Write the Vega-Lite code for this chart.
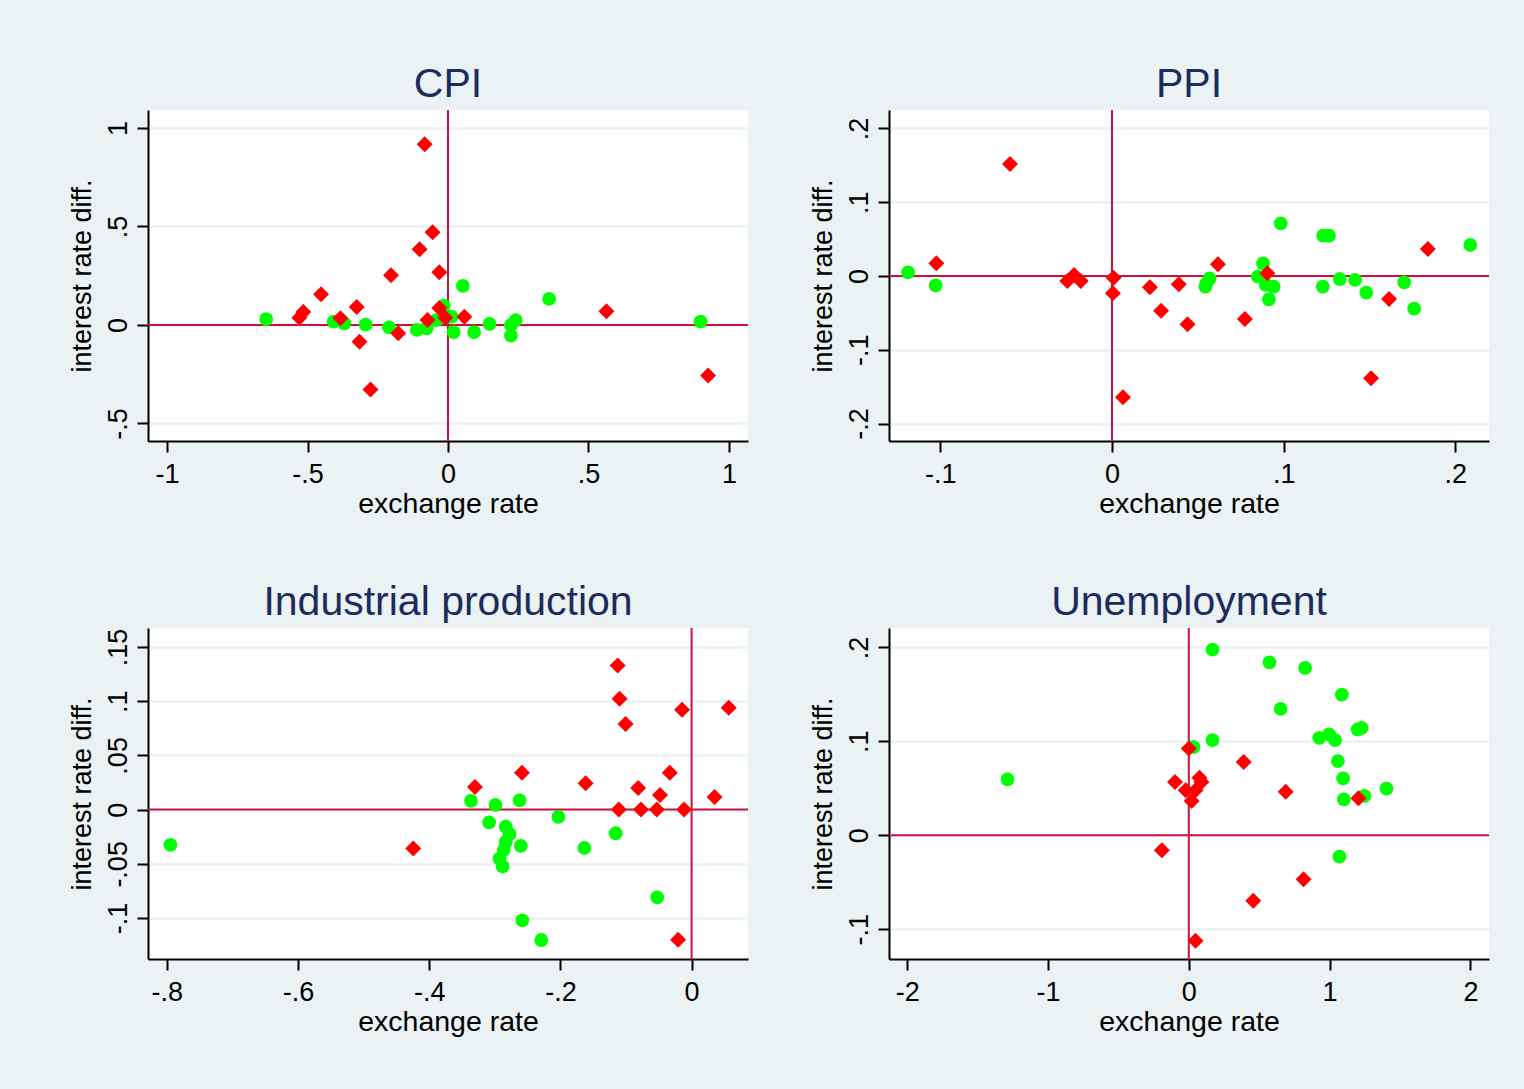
{
  "$schema": "https://vega.github.io/schema/vega-lite/v6.json",
  "autosize": {"type": "none"},
  "padding": {"left": 148, "top": 110, "right": 1376, "bottom": 979},
  "background": "#eaf2f3",
  "bounds": "flush",
  "columns": 2,
  "spacing": {"row": 187, "column": 141},
  "data": {"values": [
    {"panel":"CPI","type":"red","x":-0.083,"y":0.917},
    {"panel":"CPI","type":"red","x":-0.055,"y":0.470},
    {"panel":"CPI","type":"red","x":-0.101,"y":0.384},
    {"panel":"CPI","type":"red","x":-0.031,"y":0.267},
    {"panel":"CPI","type":"red","x":-0.203,"y":0.252},
    {"panel":"CPI","type":"red","x":-0.452,"y":0.156},
    {"panel":"CPI","type":"red","x":-0.325,"y":0.091},
    {"panel":"CPI","type":"red","x":-0.515,"y":0.066},
    {"panel":"CPI","type":"red","x":-0.529,"y":0.037},
    {"panel":"CPI","type":"red","x":-0.383,"y":0.034},
    {"panel":"CPI","type":"red","x":-0.031,"y":0.086},
    {"panel":"CPI","type":"red","x":-0.010,"y":0.037},
    {"panel":"CPI","type":"red","x":-0.073,"y":0.025},
    {"panel":"CPI","type":"red","x":0.058,"y":0.042},
    {"panel":"CPI","type":"red","x":0.564,"y":0.069},
    {"panel":"CPI","type":"red","x":-0.177,"y":-0.042},
    {"panel":"CPI","type":"red","x":-0.315,"y":-0.085},
    {"panel":"CPI","type":"red","x":-0.276,"y":-0.327},
    {"panel":"CPI","type":"red","x":0.926,"y":-0.257},
    {"panel":"CPI","type":"green","x":-0.647,"y":0.029},
    {"panel":"CPI","type":"green","x":-0.407,"y":0.017},
    {"panel":"CPI","type":"green","x":-0.369,"y":0.008},
    {"panel":"CPI","type":"green","x":-0.293,"y":0.002},
    {"panel":"CPI","type":"green","x":-0.210,"y":-0.012},
    {"panel":"CPI","type":"green","x":-0.111,"y":-0.025},
    {"panel":"CPI","type":"green","x":-0.076,"y":-0.017},
    {"panel":"CPI","type":"green","x":-0.041,"y":0.025},
    {"panel":"CPI","type":"green","x":-0.015,"y":0.098},
    {"panel":"CPI","type":"green","x":0.013,"y":0.042},
    {"panel":"CPI","type":"green","x":0.020,"y":-0.037},
    {"panel":"CPI","type":"green","x":0.093,"y":-0.037},
    {"panel":"CPI","type":"green","x":0.053,"y":0.198},
    {"panel":"CPI","type":"green","x":0.148,"y":0.005},
    {"panel":"CPI","type":"green","x":0.224,"y":0.000},
    {"panel":"CPI","type":"green","x":0.241,"y":0.025},
    {"panel":"CPI","type":"green","x":0.224,"y":-0.054},
    {"panel":"CPI","type":"green","x":0.360,"y":0.132},
    {"panel":"CPI","type":"green","x":0.899,"y":0.017},

    {"panel":"PPI","type":"red","x":-0.0594,"y":0.1519},
    {"panel":"PPI","type":"red","x":-0.1023,"y":0.0172},
    {"panel":"PPI","type":"red","x":-0.0260,"y":-0.0068},
    {"panel":"PPI","type":"red","x":-0.0221,"y":0.0014},
    {"panel":"PPI","type":"red","x":-0.0182,"y":-0.0068},
    {"panel":"PPI","type":"red","x":0.0009,"y":-0.0023},
    {"panel":"PPI","type":"red","x":0.0005,"y":-0.0235},
    {"panel":"PPI","type":"red","x":0.0064,"y":-0.1645},
    {"panel":"PPI","type":"red","x":0.0221,"y":-0.0154},
    {"panel":"PPI","type":"red","x":0.0389,"y":-0.0113},
    {"panel":"PPI","type":"red","x":0.0286,"y":-0.0470},
    {"panel":"PPI","type":"red","x":0.0440,"y":-0.0655},
    {"panel":"PPI","type":"red","x":0.0617,"y":0.0158},
    {"panel":"PPI","type":"red","x":0.0774,"y":-0.0583},
    {"panel":"PPI","type":"red","x":0.0905,"y":0.0036},
    {"panel":"PPI","type":"red","x":0.1509,"y":-0.1388},
    {"panel":"PPI","type":"red","x":0.1614,"y":-0.0312},
    {"panel":"PPI","type":"red","x":0.1840,"y":0.0366},
    {"panel":"PPI","type":"green","x":-0.1188,"y":0.0050},
    {"panel":"PPI","type":"green","x":-0.1027,"y":-0.0127},
    {"panel":"PPI","type":"green","x":0.0544,"y":-0.0145},
    {"panel":"PPI","type":"green","x":0.0569,"y":-0.0032},
    {"panel":"PPI","type":"green","x":0.0550,"y":-0.0099},
    {"panel":"PPI","type":"green","x":0.0850,"y":-0.0009},
    {"panel":"PPI","type":"green","x":0.0880,"y":0.0172},
    {"panel":"PPI","type":"green","x":0.0896,"y":-0.0122},
    {"panel":"PPI","type":"green","x":0.0942,"y":-0.0145},
    {"panel":"PPI","type":"green","x":0.0914,"y":-0.0316},
    {"panel":"PPI","type":"green","x":0.0983,"y":0.0714},
    {"panel":"PPI","type":"green","x":0.1230,"y":0.0547},
    {"panel":"PPI","type":"green","x":0.1264,"y":0.0547},
    {"panel":"PPI","type":"green","x":0.1228,"y":-0.0145},
    {"panel":"PPI","type":"green","x":0.1327,"y":-0.0041},
    {"panel":"PPI","type":"green","x":0.1416,"y":-0.0054},
    {"panel":"PPI","type":"green","x":0.1481,"y":-0.0226},
    {"panel":"PPI","type":"green","x":0.1702,"y":-0.0086},
    {"panel":"PPI","type":"green","x":0.1760,"y":-0.0443},
    {"panel":"PPI","type":"green","x":0.2087,"y":0.0420},

    {"panel":"IP","type":"red","x":-0.1127,"y":0.1328},
    {"panel":"IP","type":"red","x":-0.1097,"y":0.1021},
    {"panel":"IP","type":"red","x":-0.1007,"y":0.0788},
    {"panel":"IP","type":"red","x":-0.0145,"y":0.0920},
    {"panel":"IP","type":"red","x":0.0567,"y":0.0938},
    {"panel":"IP","type":"red","x":-0.2586,"y":0.0340},
    {"panel":"IP","type":"red","x":-0.3303,"y":0.0209},
    {"panel":"IP","type":"red","x":-0.1615,"y":0.0242},
    {"panel":"IP","type":"red","x":-0.0814,"y":0.0199},
    {"panel":"IP","type":"red","x":-0.0332,"y":0.0340},
    {"panel":"IP","type":"red","x":-0.0482,"y":0.0135},
    {"panel":"IP","type":"red","x":0.0350,"y":0.0117},
    {"panel":"IP","type":"red","x":-0.1109,"y":0.0},
    {"panel":"IP","type":"red","x":-0.0772,"y":0.0},
    {"panel":"IP","type":"red","x":-0.0530,"y":0.0},
    {"panel":"IP","type":"red","x":-0.0115,"y":0.0},
    {"panel":"IP","type":"red","x":-0.4243,"y":-0.0359},
    {"panel":"IP","type":"red","x":-0.0205,"y":-0.1199},
    {"panel":"IP","type":"green","x":-0.7945,"y":-0.0325},
    {"panel":"IP","type":"green","x":-0.3363,"y":0.0080},
    {"panel":"IP","type":"green","x":-0.2990,"y":0.0043},
    {"panel":"IP","type":"green","x":-0.2622,"y":0.0086},
    {"panel":"IP","type":"green","x":-0.3086,"y":-0.0117},
    {"panel":"IP","type":"green","x":-0.2833,"y":-0.0156},
    {"panel":"IP","type":"green","x":-0.2773,"y":-0.0227},
    {"panel":"IP","type":"green","x":-0.2833,"y":-0.0297},
    {"panel":"IP","type":"green","x":-0.2863,"y":-0.0371},
    {"panel":"IP","type":"green","x":-0.2929,"y":-0.0451},
    {"panel":"IP","type":"green","x":-0.2881,"y":-0.0524},
    {"panel":"IP","type":"green","x":-0.2604,"y":-0.0334},
    {"panel":"IP","type":"green","x":-0.2031,"y":-0.0067},
    {"panel":"IP","type":"green","x":-0.1634,"y":-0.0353},
    {"panel":"IP","type":"green","x":-0.1157,"y":-0.0218},
    {"panel":"IP","type":"green","x":-0.0524,"y":-0.0810},
    {"panel":"IP","type":"green","x":-0.2580,"y":-0.1021},
    {"panel":"IP","type":"green","x":-0.2291,"y":-0.1202},

    {"panel":"UN","type":"green","x":0.1685,"y":0.1977},
    {"panel":"UN","type":"green","x":0.573,"y":0.1842},
    {"panel":"UN","type":"green","x":0.826,"y":0.1782},
    {"panel":"UN","type":"green","x":1.087,"y":0.1498},
    {"panel":"UN","type":"green","x":0.652,"y":0.1346},
    {"panel":"UN","type":"green","x":1.199,"y":0.1126},
    {"panel":"UN","type":"green","x":1.228,"y":0.1144},
    {"panel":"UN","type":"green","x":0.927,"y":0.1038},
    {"panel":"UN","type":"green","x":0.997,"y":0.1073},
    {"panel":"UN","type":"green","x":1.039,"y":0.1013},
    {"panel":"UN","type":"green","x":0.1685,"y":0.1013},
    {"panel":"UN","type":"green","x":0.0337,"y":0.0939},
    {"panel":"UN","type":"green","x":1.059,"y":0.0790},
    {"panel":"UN","type":"green","x":1.096,"y":0.0606},
    {"panel":"UN","type":"green","x":-1.287,"y":0.0595},
    {"panel":"UN","type":"green","x":1.404,"y":0.0496},
    {"panel":"UN","type":"green","x":1.247,"y":0.0418},
    {"panel":"UN","type":"green","x":1.101,"y":0.0383},
    {"panel":"UN","type":"green","x":1.070,"y":-0.0227},
    {"panel":"UN","type":"red","x":0.0,"y":0.0925},
    {"panel":"UN","type":"red","x":0.390,"y":0.0779},
    {"panel":"UN","type":"red","x":-0.098,"y":0.0567},
    {"panel":"UN","type":"red","x":0.076,"y":0.0613},
    {"panel":"UN","type":"red","x":0.090,"y":0.0567},
    {"panel":"UN","type":"red","x":-0.022,"y":0.0478},
    {"panel":"UN","type":"red","x":0.048,"y":0.0478},
    {"panel":"UN","type":"red","x":0.020,"y":0.0365},
    {"panel":"UN","type":"red","x":0.688,"y":0.0464},
    {"panel":"UN","type":"red","x":1.205,"y":0.0393},
    {"panel":"UN","type":"red","x":-0.191,"y":-0.0159},
    {"panel":"UN","type":"red","x":0.815,"y":-0.0468},
    {"panel":"UN","type":"red","x":0.458,"y":-0.0698},
    {"panel":"UN","type":"red","x":0.048,"y":-0.1123}
  ]},
  "concat": [
    {
      "width": 600, "height": 331,
      "title": "CPI",
      "layer": [
        {"data": {"values": [{}]}, "mark": {"type": "rule", "color": "#c8143c", "strokeWidth": 2},
         "encoding": {"x": {"datum": 0, "type": "quantitative", "title": "exchange rate", "scale": {"domain": [-1.068, 1.068], "nice": false, "zero": false}, "axis": {"values": [-1, -0.5, 0, 0.5, 1]}}}},
        {"data": {"values": [{}]}, "mark": {"type": "rule", "color": "#c8143c", "strokeWidth": 2},
         "encoding": {"y": {"datum": 0, "type": "quantitative", "title": "interest rate diff.", "scale": {"domain": [-0.589, 1.091], "nice": false, "zero": false}, "axis": {"values": [-0.5, 0, 0.5, 1]}}}},
        {"transform": [{"filter": "datum.panel == 'CPI' && datum.type == 'green'"}],
         "mark": {"type": "point", "shape": "circle", "filled": true, "opacity": 1, "size": 190, "color": "#00ff00"},
         "encoding": {"x": {"field": "x", "type": "quantitative", "title": "exchange rate"}, "y": {"field": "y", "type": "quantitative", "title": "interest rate diff."}}},
        {"transform": [{"filter": "datum.panel == 'CPI' && datum.type == 'red'"}],
         "mark": {"type": "point", "shape": "diamond", "filled": true, "opacity": 1, "size": 256, "color": "#ff0000"},
         "encoding": {"x": {"field": "x", "type": "quantitative", "title": "exchange rate"}, "y": {"field": "y", "type": "quantitative", "title": "interest rate diff."}}}
      ]
    },
    {
      "width": 600, "height": 331,
      "title": "PPI",
      "layer": [
        {"data": {"values": [{}]}, "mark": {"type": "rule", "color": "#c8143c", "strokeWidth": 2},
         "encoding": {"x": {"datum": 0, "type": "quantitative", "title": "exchange rate", "scale": {"domain": [-0.1299, 0.2196], "nice": false, "zero": false}, "axis": {"values": [-0.1, 0, 0.1, 0.2]}}}},
        {"data": {"values": [{}]}, "mark": {"type": "rule", "color": "#c8143c", "strokeWidth": 2},
         "encoding": {"y": {"datum": 0, "type": "quantitative", "title": "interest rate diff.", "scale": {"domain": [-0.2237, 0.225], "nice": false, "zero": false}, "axis": {"values": [-0.2, -0.1, 0, 0.1, 0.2]}}}},
        {"transform": [{"filter": "datum.panel == 'PPI' && datum.type == 'green'"}],
         "mark": {"type": "point", "shape": "circle", "filled": true, "opacity": 1, "size": 190, "color": "#00ff00"},
         "encoding": {"x": {"field": "x", "type": "quantitative", "title": "exchange rate"}, "y": {"field": "y", "type": "quantitative", "title": "interest rate diff."}}},
        {"transform": [{"filter": "datum.panel == 'PPI' && datum.type == 'red'"}],
         "mark": {"type": "point", "shape": "diamond", "filled": true, "opacity": 1, "size": 256, "color": "#ff0000"},
         "encoding": {"x": {"field": "x", "type": "quantitative", "title": "exchange rate"}, "y": {"field": "y", "type": "quantitative", "title": "interest rate diff."}}}
      ]
    },
    {
      "width": 600, "height": 331,
      "title": "Industrial production",
      "layer": [
        {"data": {"values": [{}]}, "mark": {"type": "rule", "color": "#c8143c", "strokeWidth": 2},
         "encoding": {"x": {"datum": 0, "type": "quantitative", "title": "exchange rate", "scale": {"domain": [-0.8287, 0.086], "nice": false, "zero": false}, "axis": {"values": [-0.8, -0.6, -0.4, -0.2, 0]}}}},
        {"data": {"values": [{}]}, "mark": {"type": "rule", "color": "#c8143c", "strokeWidth": 2},
         "encoding": {"y": {"datum": 0, "type": "quantitative", "title": "interest rate diff.", "scale": {"domain": [-0.1377, 0.1674], "nice": false, "zero": false}, "axis": {"values": [-0.1, -0.05, 0, 0.05, 0.1, 0.15]}}}},
        {"transform": [{"filter": "datum.panel == 'IP' && datum.type == 'green'"}],
         "mark": {"type": "point", "shape": "circle", "filled": true, "opacity": 1, "size": 190, "color": "#00ff00"},
         "encoding": {"x": {"field": "x", "type": "quantitative", "title": "exchange rate"}, "y": {"field": "y", "type": "quantitative", "title": "interest rate diff."}}},
        {"transform": [{"filter": "datum.panel == 'IP' && datum.type == 'red'"}],
         "mark": {"type": "point", "shape": "diamond", "filled": true, "opacity": 1, "size": 256, "color": "#ff0000"},
         "encoding": {"x": {"field": "x", "type": "quantitative", "title": "exchange rate"}, "y": {"field": "y", "type": "quantitative", "title": "interest rate diff."}}}
      ]
    },
    {
      "width": 600, "height": 331,
      "title": "Unemployment",
      "layer": [
        {"data": {"values": [{}]}, "mark": {"type": "rule", "color": "#c8143c", "strokeWidth": 2},
         "encoding": {"x": {"datum": 0, "type": "quantitative", "title": "exchange rate", "scale": {"domain": [-2.129, 2.132], "nice": false, "zero": false}, "axis": {"values": [-2, -1, 0, 1, 2]}}}},
        {"data": {"values": [{}]}, "mark": {"type": "rule", "color": "#c8143c", "strokeWidth": 2},
         "encoding": {"y": {"datum": 0, "type": "quantitative", "title": "interest rate diff.", "scale": {"domain": [-0.1318, 0.2207], "nice": false, "zero": false}, "axis": {"values": [-0.1, 0, 0.1, 0.2]}}}},
        {"transform": [{"filter": "datum.panel == 'UN' && datum.type == 'green'"}],
         "mark": {"type": "point", "shape": "circle", "filled": true, "opacity": 1, "size": 190, "color": "#00ff00"},
         "encoding": {"x": {"field": "x", "type": "quantitative", "title": "exchange rate"}, "y": {"field": "y", "type": "quantitative", "title": "interest rate diff."}}},
        {"transform": [{"filter": "datum.panel == 'UN' && datum.type == 'red'"}],
         "mark": {"type": "point", "shape": "diamond", "filled": true, "opacity": 1, "size": 256, "color": "#ff0000"},
         "encoding": {"x": {"field": "x", "type": "quantitative", "title": "exchange rate"}, "y": {"field": "y", "type": "quantitative", "title": "interest rate diff."}}}
      ]
    }
  ],
  "config": {
    "font": "Liberation Sans",
    "view": {"fill": "white", "stroke": null},
    "axis": {
      "domainColor": "black", "domainWidth": 2, "tickColor": "black", "tickWidth": 2, "tickSize": 11,
      "labelFont": "Liberation Sans", "labelFontSize": 27, "labelColor": "black",
      "labelFlush": false, "labelOverlap": false, "labelBound": false,
      "labelExpr": "replace(toString(datum.value), '0.', '.')",
      "titleFont": "Liberation Sans", "titleFontSize": 28.5, "titleFontWeight": "normal", "titleColor": "black"
    },
    "axisX": {"grid": false, "labelPadding": 9, "titlePadding": 2},
    "axisY": {"grid": true, "gridColor": "#eaf2f3", "gridWidth": 2.5, "gridOpacity": 1, "labelAngle": -90, "labelPadding": 5, "titlePadding": 8, "titleFontSize": 27},
    "title": {"fontSize": 41, "font": "Liberation Sans", "fontWeight": "normal", "color": "#1c2c5c", "offset": 3, "anchor": "middle"}
  }
}
